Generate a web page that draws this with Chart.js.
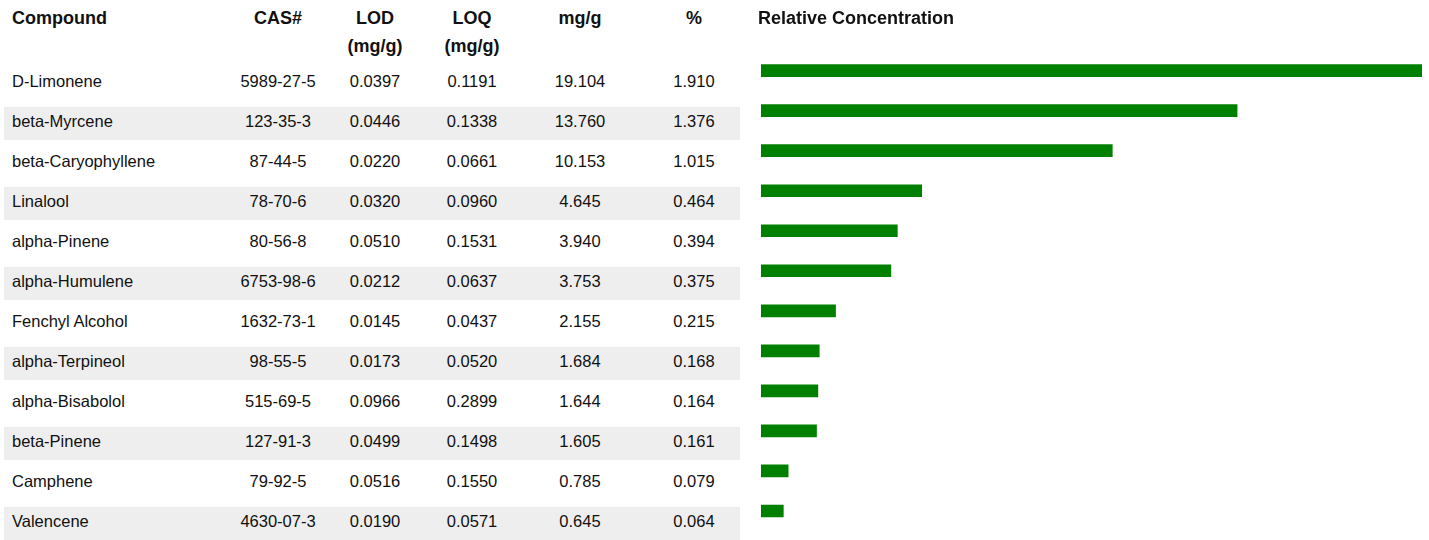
<!DOCTYPE html>
<html>
<head>
<meta charset="utf-8">
<script src="https://cdn.jsdelivr.net/npm/chart.js@4"></script>
<style>
    body { margin: 0; background: #fff; font-family: "Liberation Sans", Arial, sans-serif; color: #111; }
    #page { position: relative; width: 1429px; height: 540px; overflow: hidden; }
    #terpTable {
        position: absolute; left: 4px; top: -4px; width: 736px;
        border-collapse: separate; border-spacing: 0 7px; table-layout: fixed;
        font-size: 16.5px;
    }
    #terpTable th { font-weight: bold; font-size: 18px; line-height: 28px; vertical-align: top; height: 56px; padding: 1px 0 0 0; text-align: center; }
    #terpTable td { height: 33px; line-height: 29px; vertical-align: top; padding: 0; text-align: center; }
    #terpTable th:first-child, #terpTable td:first-child { text-align: left; padding-left: 8px; }
    #terpTable th:last-child, #terpTable td:last-child { padding-left: 8px; }
    #terpTable tbody tr:nth-child(even) td { background: #eeeeee; }
    #chartBox { position: absolute; left: 740px; top: 0; width: 689px; height: 540px; }
</style>
</head>
<body>
<div id="page">
    <table id="terpTable">
        <colgroup>
            <col style="width:226px"><col style="width:96px"><col style="width:98px">
            <col style="width:96px"><col style="width:120px"><col style="width:100px">
        </colgroup>
        <thead>
            <tr>
                <th>Compound</th><th>CAS#</th><th>LOD<br>(mg/g)</th>
                <th>LOQ<br>(mg/g)</th><th>mg/g</th><th>%</th>
            </tr>
        </thead>
        <tbody id="terpRows"></tbody>
    </table>
    <div id="chartBox"><canvas id="concChart"></canvas></div>
</div>
<script>
const compounds = ['D-Limonene', 'beta-Myrcene', 'beta-Caryophyllene', 'Linalool', 'alpha-Pinene', 'alpha-Humulene',
    'Fenchyl Alcohol', 'alpha-Terpineol', 'alpha-Bisabolol', 'beta-Pinene', 'Camphene', 'Valencene'];
const casNumbers = ['5989-27-5', '123-35-3', '87-44-5', '78-70-6', '80-56-8', '6753-98-6',
    '1632-73-1', '98-55-5', '515-69-5', '127-91-3', '79-92-5', '4630-07-3'];
const lodValues = [0.0397, 0.0446, 0.0220, 0.0320, 0.0510, 0.0212, 0.0145, 0.0173, 0.0966, 0.0499, 0.0516, 0.0190];
const loqValues = [0.1191, 0.1338, 0.0661, 0.0960, 0.1531, 0.0637, 0.0437, 0.0520, 0.2899, 0.1498, 0.1550, 0.0571];
const mgPerG = [19.104, 13.760, 10.153, 4.645, 3.940, 3.753, 2.155, 1.684, 1.644, 1.605, 0.785, 0.645];
const percents = [1.910, 1.376, 1.015, 0.464, 0.394, 0.375, 0.215, 0.168, 0.164, 0.161, 0.079, 0.064];

// table on the left
const tbody = document.getElementById('terpRows');
compounds.forEach((name, i) => {
    const tr = document.createElement('tr');
    [name, casNumbers[i], lodValues[i].toFixed(4), loqValues[i].toFixed(4),
        mgPerG[i].toFixed(3), percents[i].toFixed(3)].forEach(txt => {
        const td = document.createElement('td');
        td.textContent = txt;
        tr.appendChild(td);
    });
    tbody.appendChild(tr);
});

// bar chart on the right
new Chart(document.getElementById('concChart'), {
    type: 'bar',
    data: {
        labels: compounds,
        datasets: [{
            data: mgPerG,
            backgroundColor: '#008000',
            barThickness: 12
        }]
    },
    options: {
        indexAxis: 'y',
        responsive: true,
        maintainAspectRatio: false,
        animation: false,
        layout: { padding: { left: 18, right: 7, top: 0, bottom: 9 } },
        plugins: {
            legend: { display: false },
            tooltip: { enabled: false },
            title: {
                display: true,
                text: 'Relative Concentration',
                align: 'start',
                color: '#111',
                font: { family: '"Liberation Sans", Arial, sans-serif', size: 18, weight: 'bold' },
                padding: { top: 8, bottom: 21 }
            }
        },
        scales: {
            x: {
                display: false,
                min: 0,
                max: Math.max(...mgPerG)
            },
            y: {
                display: true,
                ticks: { display: false },
                grid: { display: false },
                border: { display: false },
                afterFit: (scale) => { scale.width = 3; }
            }
        }
    }
});
</script>
</body>
</html>
